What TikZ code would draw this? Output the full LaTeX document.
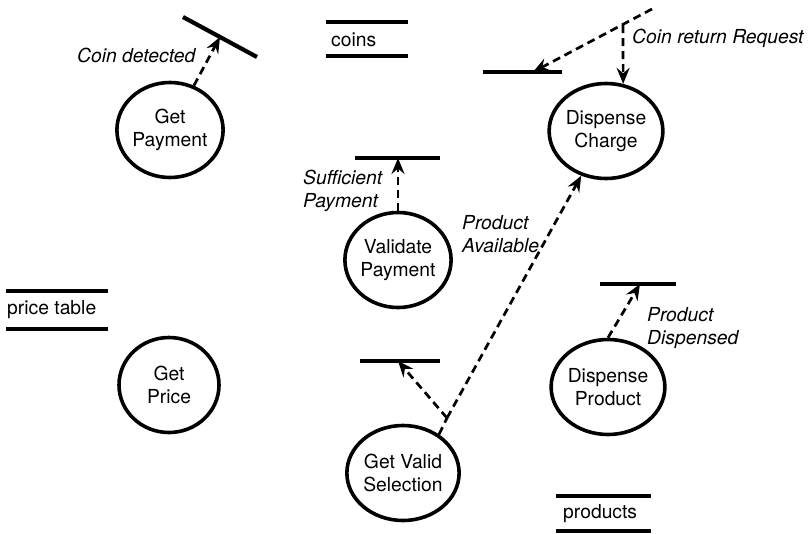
\documentclass[tikz,border=0pt]{standalone}
\usepackage{fontspec}
\setmainfont{TeX Gyre Heros}
\usetikzlibrary{shapes.geometric,arrows.meta}
\begin{document}
\begin{tikzpicture}[x=1pt,y=-1pt,
  process/.style={ellipse,draw,line width=3.6pt,minimum width=100pt,minimum height=95pt,
    inner sep=0pt,align=center,font=\fontsize{19.3}{23}\selectfont},
  storeline/.style={line width=4.2pt},
  dataflow/.style={line width=2.7pt,dash pattern=on 8pt off 5pt},
  flowarrow/.style={dataflow,-{Stealth[length=16pt,width=13pt,inset=5.5pt]}},
  flowlabel/.style={font=\fontsize{19.3}{23}\selectfont\itshape,anchor=west,inner sep=0pt,align=left},
  storelabel/.style={font=\fontsize{19.3}{23}\selectfont,inner sep=0pt}]
\useasboundingbox (0,0) rectangle (810,533);

% processes
\node[process] (gp)  at (170,130) {Get\\Payment};
\node[process] (dc)  at (606,131) {Dispense\\Charge};
\node[process] (vp)  at (398,260) {Validate\\Payment};
\node[process] (gpr) at (169,385) {Get\\Price};
\node[process] (gvs) at (403,473) {Get Valid\\Selection};
\node[process] (dp)  at (608,387) {Dispense\\Product};

% data stores and event stores
\draw[storeline] (183,17) -- (257,57);
\coordinate (coinev) at (220,37);

\draw[storeline] (326,22) -- (408,22);
\draw[storeline] (326,56) -- (408,56);
\node[storelabel,anchor=west] (coins) at (331,40) {coins};

\draw[storeline] (483,72) -- (562,72);
\coordinate (retev) at (533,72);

\draw[storeline] (355,158) -- (440,158);
\coordinate (payev) at (398,158);

\draw[storeline] (360,361) -- (440,361);
\coordinate (selev) at (398,361);

\draw[storeline] (600,284) -- (676,284);
\coordinate (dispev) at (640,284);

\draw[storeline] (6,291) -- (108,291);
\draw[storeline] (6,329) -- (108,329);
\node[storelabel,anchor=west] (ptable) at (7,310) {price table};

\draw[storeline] (556,496) -- (651,496);
\draw[storeline] (556,531) -- (651,531);
\node[storelabel,anchor=west] (prods) at (563,514) {products};

% flows
\coordinate (retsrc) at (652,9);
\coordinate (retjn) at (623,25);
\coordinate (seljn) at (447,418);

\draw[flowarrow] (gp) -- (coinev);
\draw[flowarrow] (retsrc) -- (retev);
\draw[flowarrow] (retjn) -- (dc.70);
\draw[flowarrow] (vp.north) -- (payev);
\draw[dataflow] (gvs.47) -- (seljn);
\draw[flowarrow] (seljn) -- (selev);
\draw[flowarrow] (seljn) -- (dc);
\draw[flowarrow] (dp.north) -- (dispev);

% flow labels
\node[flowlabel] (lcoin) at (77,55) {Coin detected};
\node[flowlabel] (lret) at (632,38) {Coin return Request};
\node[flowlabel] (lsuff) at (303,191) {Sufficient\\Payment};
\node[flowlabel] (lavail) at (462,234) {Product\\Available};
\node[flowlabel] (ldisp) at (647,328) {Product\\Dispensed};
\end{tikzpicture}
\end{document}
